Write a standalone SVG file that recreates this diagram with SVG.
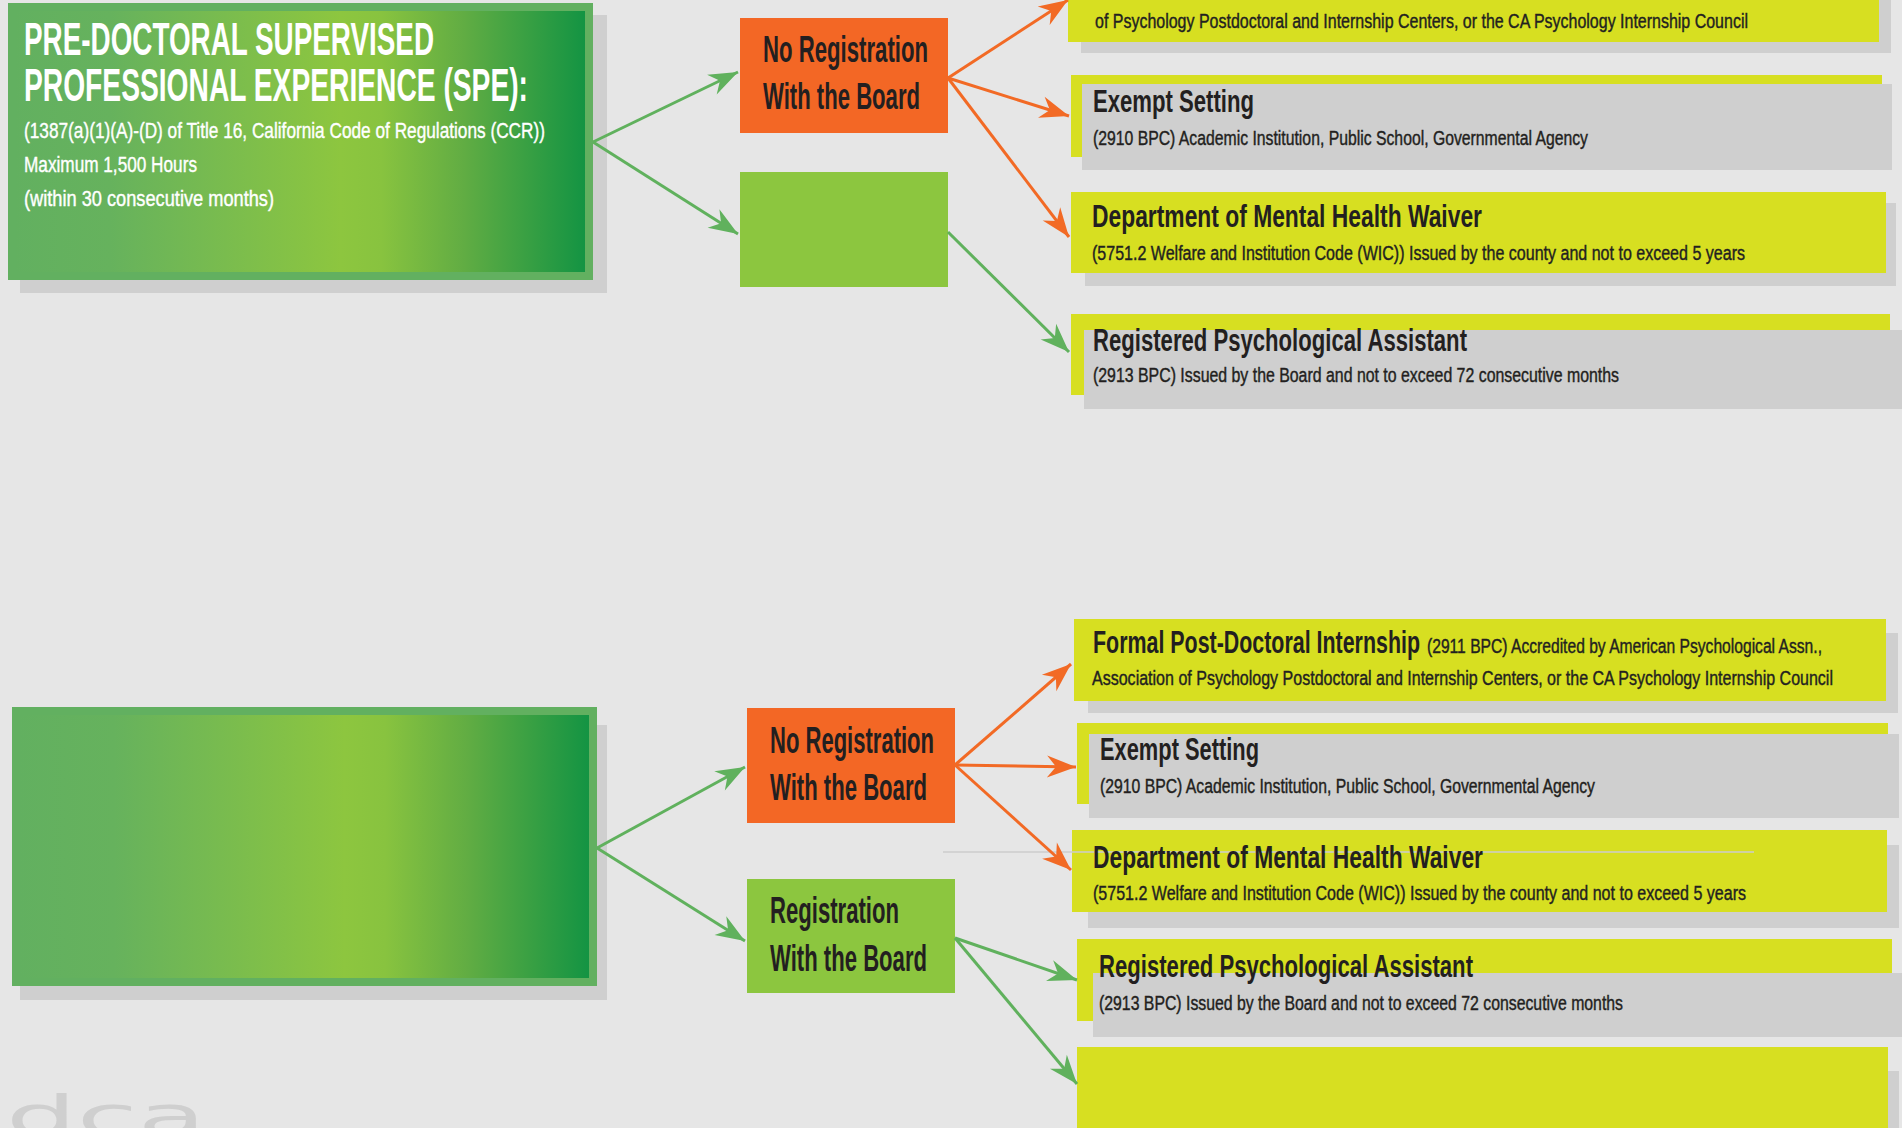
<svg xmlns="http://www.w3.org/2000/svg" width="1902" height="1128" viewBox="0 0 1902 1128">
<defs>
<style>
.bg{fill:#e6e6e6}
.shadow{fill:#cfcfcf}
.yel{fill:#d7df21}
.orange{fill:#f36725}
.lgreen{fill:#8cc63f}
.main{fill:url(#mainGrad);stroke:#62b060;stroke-width:8}
.txt{font-family:"Liberation Sans Narrow","Liberation Sans",Arial,sans-serif;fill:#231f20}
.title{font-size:31px;font-weight:bold}
.sub{font-size:19.5px;stroke:#231f20;stroke-width:0.4}
.lbl{font-size:36px;font-weight:bold}
.mt{font-family:"Liberation Sans Narrow","Liberation Sans",Arial,sans-serif;fill:#ffffff}
.mt1{font-size:46px;font-weight:bold}
.mt2{font-size:22px;stroke:#ffffff;stroke-width:0.4}
.cg{fill:none;stroke:#60b15d;stroke-width:3}
.co{fill:none;stroke:#f26a25;stroke-width:3}
</style>
<linearGradient id="mainGrad" x1="0" y1="0" x2="1" y2="0">
<stop offset="0" stop-color="#62b060"/>
<stop offset="0.17" stop-color="#66b25d"/>
<stop offset="0.57" stop-color="#8dc63f"/>
<stop offset="0.64" stop-color="#88c33f"/>
<stop offset="0.78" stop-color="#62ad43"/>
<stop offset="1" stop-color="#119343"/>
</linearGradient>
<marker id="ag" viewBox="-30 -12 32 24" refX="0" refY="0" markerWidth="32" markerHeight="24" markerUnits="userSpaceOnUse" orient="auto">
<path d="M0,0 L-29,-11 L-20,0 L-29,11 Z" fill="#60b15d"/>
</marker>
<marker id="ao" viewBox="-30 -12 32 24" refX="0" refY="0" markerWidth="32" markerHeight="24" markerUnits="userSpaceOnUse" orient="auto">
<path d="M0,0 L-29,-11 L-20,0 L-29,11 Z" fill="#f26a25"/>
</marker>
</defs>
<rect class="bg" x="0" y="0" width="1902" height="1128"/>
<text transform="translate(6,1105) scale(1,0.6)" x="0" y="50" font-family="DejaVu Sans, sans-serif" font-size="92" fill="#cfcfcf" textLength="200" lengthAdjust="spacingAndGlyphs">dca</text>

<g id="main-top">
<rect class="shadow" x="20" y="15" width="587" height="278"/>
<rect class="main" x="12" y="7" width="577" height="269"/>
<text class="mt mt1" x="24" y="55" textLength="410" lengthAdjust="spacingAndGlyphs">PRE-DOCTORAL SUPERVISED</text>
<text class="mt mt1" x="24" y="101" textLength="504" lengthAdjust="spacingAndGlyphs">PROFESSIONAL EXPERIENCE (SPE):</text>
<text class="mt mt2" x="24" y="138" textLength="521" lengthAdjust="spacingAndGlyphs">(1387(a)(1)(A)-(D) of Title 16, California Code of Regulations (CCR))</text>
<text class="mt mt2" x="24" y="172" textLength="173" lengthAdjust="spacingAndGlyphs">Maximum 1,500 Hours</text>
<text class="mt mt2" x="24" y="206" textLength="250" lengthAdjust="spacingAndGlyphs">(within 30 consecutive months)</text>
</g>

<g id="top-no-reg">
<rect class="orange" x="740" y="18" width="208" height="115"/>
<text class="txt lbl" x="763" y="62" textLength="165" lengthAdjust="spacingAndGlyphs">No Registration</text>
<text class="txt lbl" x="763" y="109" textLength="157" lengthAdjust="spacingAndGlyphs">With the Board</text>
</g>

<g id="top-reg">
<rect class="lgreen" x="740" y="172" width="208" height="115"/>
</g>

<g id="top-formal">
<rect class="shadow" x="1081" y="-29" width="810" height="82"/>
<rect class="yel" x="1068" y="-40" width="811" height="82"/>
<text class="txt sub" x="1095" y="-4" textLength="740" lengthAdjust="spacingAndGlyphs">Formal Post-Doctoral Internship (2911 BPC) Accredited by American Psychological Assn., Association</text>
<text class="txt sub" x="1095" y="28" textLength="653" lengthAdjust="spacingAndGlyphs">of Psychology Postdoctoral and Internship Centers, or the CA Psychology Internship Council</text>
</g>

<g id="top-exempt">
<rect class="yel" x="1071" y="75" width="811" height="82"/>
<rect class="shadow" x="1082" y="84" width="810" height="86"/>
<text class="txt title" x="1093" y="112" textLength="161" lengthAdjust="spacingAndGlyphs">Exempt Setting</text>
<text class="txt sub" x="1093" y="145" textLength="495" lengthAdjust="spacingAndGlyphs">(2910 BPC) Academic Institution, Public School, Governmental Agency</text>
</g>

<g id="top-dmh">
<rect class="shadow" x="1085" y="203" width="811" height="83"/>
<rect class="yel" x="1071" y="192" width="815" height="81"/>
<text class="txt title" x="1092" y="227" textLength="390" lengthAdjust="spacingAndGlyphs">Department of Mental Health Waiver</text>
<text class="txt sub" x="1092" y="260" textLength="653" lengthAdjust="spacingAndGlyphs">(5751.2 Welfare and Institution Code (WIC)) Issued by the county and not to exceed 5 years</text>
</g>

<g id="top-rpa">
<rect class="yel" x="1071" y="314" width="819" height="81"/>
<rect class="shadow" x="1084" y="330" width="818" height="79"/>
<text class="txt title" x="1093" y="351" textLength="374" lengthAdjust="spacingAndGlyphs">Registered Psychological Assistant</text>
<text class="txt sub" x="1093" y="382" textLength="526" lengthAdjust="spacingAndGlyphs">(2913 BPC) Issued by the Board and not to exceed 72 consecutive months</text>
</g>

<g id="main-bottom">
<rect class="shadow" x="20" y="725" width="587" height="275"/>
<rect class="main" x="16" y="711" width="577" height="271"/>
</g>

<g id="bottom-no-reg">
<rect class="orange" x="747" y="708" width="208" height="115"/>
<text class="txt lbl" x="770" y="753" textLength="164" lengthAdjust="spacingAndGlyphs">No Registration</text>
<text class="txt lbl" x="770" y="800" textLength="157" lengthAdjust="spacingAndGlyphs">With the Board</text>
</g>

<g id="bottom-reg">
<rect class="lgreen" x="747" y="879" width="208" height="114"/>
<text class="txt lbl" x="770" y="923" textLength="129" lengthAdjust="spacingAndGlyphs">Registration</text>
<text class="txt lbl" x="770" y="971" textLength="157" lengthAdjust="spacingAndGlyphs">With the Board</text>
</g>

<g id="bottom-formal">
<rect class="shadow" x="1088" y="633" width="810" height="80"/>
<rect class="yel" x="1074" y="619" width="812" height="82"/>
<text class="txt title" x="1093" y="653" textLength="327" lengthAdjust="spacingAndGlyphs">Formal Post-Doctoral Internship</text>
<text class="txt sub" x="1427" y="653" textLength="395" lengthAdjust="spacingAndGlyphs">(2911 BPC) Accredited by American Psychological Assn.,</text>
<text class="txt sub" x="1092" y="685" textLength="741" lengthAdjust="spacingAndGlyphs">Association of Psychology Postdoctoral and Internship Centers, or the CA Psychology Internship Council</text>
</g>

<g id="bottom-exempt">
<rect class="yel" x="1077" y="723" width="811" height="81"/>
<rect class="shadow" x="1089" y="734" width="810" height="84"/>
<text class="txt title" x="1100" y="760" textLength="159" lengthAdjust="spacingAndGlyphs">Exempt Setting</text>
<text class="txt sub" x="1100" y="793" textLength="495" lengthAdjust="spacingAndGlyphs">(2910 BPC) Academic Institution, Public School, Governmental Agency</text>
</g>

<g id="bottom-dmh">
<rect class="shadow" x="1088" y="845" width="811" height="83"/>
<rect class="yel" x="1072" y="830" width="815" height="82"/>
<line x1="943" y1="852" x2="1754" y2="852" stroke="#cccccc" stroke-width="1.5"/>
<text class="txt title" x="1093" y="868" textLength="390" lengthAdjust="spacingAndGlyphs">Department of Mental Health Waiver</text>
<text class="txt sub" x="1093" y="900" textLength="653" lengthAdjust="spacingAndGlyphs">(5751.2 Welfare and Institution Code (WIC)) Issued by the county and not to exceed 5 years</text>
</g>

<g id="bottom-rpa">
<rect class="yel" x="1077" y="939" width="815" height="82"/>
<rect class="shadow" x="1093" y="973" width="809" height="64"/>
<text class="txt title" x="1099" y="977" textLength="374" lengthAdjust="spacingAndGlyphs">Registered Psychological Assistant</text>
<text class="txt sub" x="1099" y="1010" textLength="524" lengthAdjust="spacingAndGlyphs">(2913 BPC) Issued by the Board and not to exceed 72 consecutive months</text>
</g>

<g id="bottom-empty">
<rect class="shadow" x="1088" y="1071" width="811" height="80"/>
<rect class="yel" x="1077" y="1047" width="811" height="100"/>
</g>

<g id="connectors">
<line class="cg" x1="593" y1="142" x2="738" y2="72" marker-end="url(#ag)"/>
<line class="cg" x1="593" y1="142" x2="738" y2="234" marker-end="url(#ag)"/>
<line class="co" x1="948" y1="78" x2="1068" y2="0" marker-end="url(#ao)"/>
<line class="co" x1="948" y1="78" x2="1069" y2="116" marker-end="url(#ao)"/>
<line class="co" x1="948" y1="78" x2="1069" y2="237" marker-end="url(#ao)"/>
<line class="cg" x1="948" y1="232" x2="1069" y2="352" marker-end="url(#ag)"/>
<line class="cg" x1="597" y1="848" x2="745" y2="767" marker-end="url(#ag)"/>
<line class="cg" x1="597" y1="848" x2="745" y2="941" marker-end="url(#ag)"/>
<line class="co" x1="955" y1="765" x2="1071" y2="664" marker-end="url(#ao)"/>
<line class="co" x1="955" y1="765" x2="1076" y2="767" marker-end="url(#ao)"/>
<line class="co" x1="955" y1="765" x2="1071" y2="870" marker-end="url(#ao)"/>
<line class="cg" x1="955" y1="938" x2="1077" y2="980" marker-end="url(#ag)"/>
<line class="cg" x1="955" y1="938" x2="1077" y2="1084" marker-end="url(#ag)"/>
</g>
</svg>
